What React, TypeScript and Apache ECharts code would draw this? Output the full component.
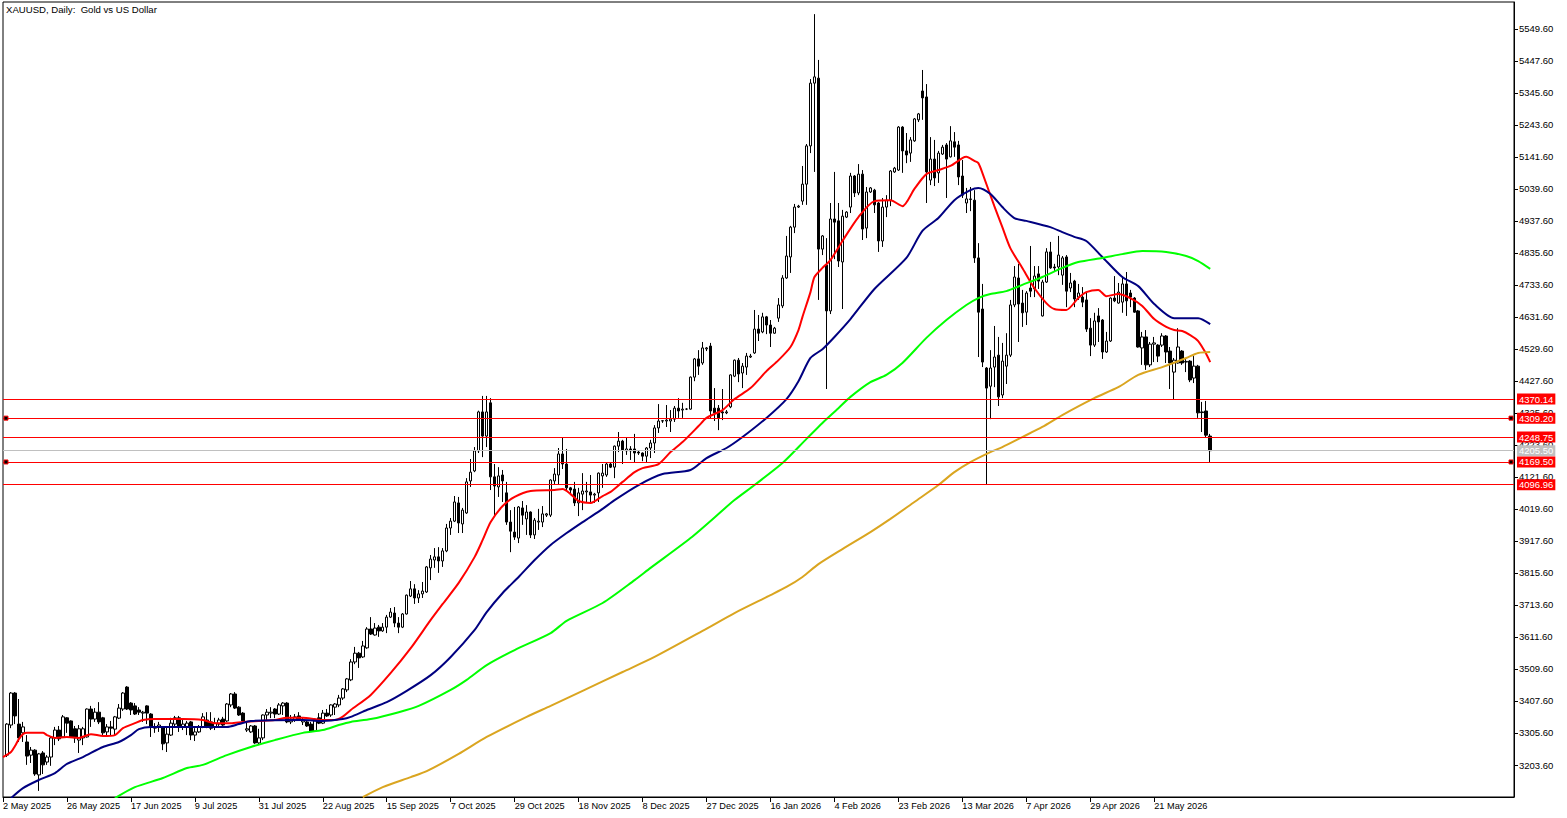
import React, { useEffect, useRef } from 'react';
import * as echarts from 'echarts';

const CHART_TITLE = 'XAUUSD, Daily:  Gold vs US Dollar';
const FONT = '"Liberation Sans", Arial, sans-serif';

const xLabels = [
  '2 May 2025', '26 May 2025', '17 Jun 2025', '9 Jul 2025', '31 Jul 2025', '22 Aug 2025', '15 Sep 2025',
  '7 Oct 2025', '29 Oct 2025', '18 Nov 2025', '8 Dec 2025', '27 Dec 2025', '16 Jan 2026', '4 Feb 2026',
  '23 Feb 2026', '13 Mar 2026', '7 Apr 2026', '29 Apr 2026', '21 May 2026',
];
const BARS_PER_LABEL = 16;
const SLOTS = 379;

const yTicks = [
  3203.6, 3305.6, 3407.6, 3509.6, 3611.6, 3713.6, 3815.6, 3917.6, 4019.6, 4121.6, 4223.6, 4325.6,
  4427.6, 4529.6, 4631.6, 4733.6, 4835.6, 4937.6, 5039.6, 5141.6, 5243.6, 5345.6, 5447.6, 5549.6,
];

const redLevels = [4370.14, 4309.2, 4248.75, 4169.5, 4096.96];
const bidLevel = 4205.5;
const anchoredLevels = [4309.2, 4169.5];

// open, close, low, high
const candles = [
  [3235,3334,3229,3337],[3331,3433,3321,3436],[3433,3360,3334,3436],[3334,3290,3277,3414],[3306,3325,3277,3341],
  [3277,3232,3204,3299],[3235,3251,3210,3261],[3251,3175,3169,3254],[3172,3239,3121,3242],[3242,3204,3175,3248],
  [3213,3229,3204,3235],[3229,3290,3201,3293],[3290,3315,3267,3325],[3315,3287,3280,3328],[3293,3357,3290,3363],
  [3354,3337,3306,3356],[3344,3293,3290,3346],[3319,3290,3274,3328],[3283,3319,3242,3331],[3290,3319,3267,3325],
  [3293,3382,3291,3384],[3382,3350,3325,3392],[3350,3372,3341,3385],[3372,3341,3334,3404],[3354,3306,3299,3357],
  [3309,3325,3293,3334],[3325,3321,3296,3344],[3318,3357,3296,3360],[3353,3385,3350,3398],[3382,3433,3376,3436],
  [3452,3382,3379,3455],[3401,3379,3363,3404],[3392,3366,3363,3401],[3379,3372,3363,3388],[3369,3372,3341,3376],
  [3392,3369,3334,3394],[3366,3325,3293,3369],[3321,3325,3306,3337],[3325,3331,3309,3341],[3325,3271,3251,3327],
  [3274,3302,3245,3325],[3299,3337,3296,3354],[3334,3354,3325,3360],[3354,3325,3309,3360],[3325,3334,3315,3347],
  [3325,3337,3299,3344],[3341,3299,3283,3344],[3299,3309,3280,3321],[3309,3325,3306,3331],[3325,3357,3321,3369],
  [3347,3328,3321,3372],[3341,3321,3315,3372],[3325,3337,3315,3354],[3334,3347,3328,3354],[3350,3331,3328,3357],
  [3344,3398,3341,3401],[3395,3430,3388,3433],[3430,3385,3382,3436],[3388,3363,3360,3391],[3369,3344,3337,3372],
  [3315,3319,3309,3341],[3309,3328,3306,3331],[3328,3274,3271,3331],[3274,3290,3267,3319],[3290,3363,3283,3365],
  [3363,3372,3347,3382],[3369,3372,3353,3388],[3382,3366,3353,3385],[3366,3395,3363,3401],[3392,3401,3363,3404],
  [3401,3341,3337,3404],[3341,3350,3334,3363],[3347,3357,3341,3366],[3360,3347,3344,3372],[3341,3347,3331,3354],
  [3341,3328,3325,3347],[3334,3312,3309,3341],[3312,3344,3309,3346],[3354,3337,3334,3369],[3337,3369,3334,3379],
  [3369,3360,3357,3382],[3363,3395,3357,3397],[3388,3398,3363,3401],[3395,3417,3388,3427],[3417,3446,3411,3449],
  [3443,3478,3436,3481],[3475,3532,3471,3541],[3532,3560,3525,3580],[3560,3545,3513,3564],[3548,3583,3545,3599],
  [3577,3637,3574,3643],[3637,3621,3618,3675],[3618,3640,3616,3656],[3643,3631,3612,3650],[3631,3643,3628,3656],
  [3643,3675,3624,3682],[3675,3691,3672,3704],[3688,3656,3643,3707],[3656,3643,3624,3675],[3643,3685,3640,3688],
  [3685,3745,3683,3747],[3742,3765,3739,3790],[3765,3736,3717,3780],[3736,3749,3720,3761],[3749,3758,3736,3787],
  [3755,3835,3752,3838],[3832,3860,3793,3873],[3857,3867,3832,3895],[3867,3854,3816,3898],[3854,3886,3835,3895],
  [3886,3959,3882,3972],[3959,3981,3937,3991],[3981,4042,3978,4061],[4039,3975,3943,4058],[3972,4016,3943,4023],
  [4007,4106,4004,4118],[4109,4137,4090,4179],[4141,4205,4137,4217],[4205,4329,4198,4333],[4329,4252,4185,4380],
  [4252,4329,4217,4380],[4358,4122,4080,4373],[4122,4093,4000,4163],[4090,4125,4058,4153],[4128,4109,4042,4144],
  [4071,3978,3969,4106],[3978,3949,3882,4016],[3946,3930,3921,4026],[3927,4026,3911,4029],[4023,4000,3969,4045],
  [3988,4010,3937,4032],[4010,3937,3927,4012],[3937,3984,3924,3991],[3978,3981,3953,4020],[3978,4004,3962,4029],
  [4000,4004,3994,4007],[4000,4112,3994,4114],[4109,4131,4096,4150],[4128,4195,4096,4214],[4195,4163,4147,4246],
  [4163,4087,4077,4211],[4087,4080,4064,4090],[4083,4039,4029,4106],[4039,4071,3997,4087],[4067,4077,4016,4134],
  [4074,4077,4039,4106],[4074,4064,4042,4128],[4064,4067,4039,4071],[4071,4134,4042,4136],[4125,4134,4087,4163],
  [4128,4163,4122,4169],[4163,4153,4150,4169],[4153,4220,4118,4222],[4220,4236,4201,4265],[4236,4208,4163,4240],
  [4205,4211,4192,4246],[4211,4205,4176,4220],[4211,4198,4169,4259],[4201,4198,4192,4205],[4198,4188,4172,4200],
  [4188,4214,4169,4217],[4214,4230,4182,4240],[4230,4278,4198,4287],[4278,4300,4262,4354],[4300,4301,4294,4303],
  [4300,4303,4281,4351],[4300,4306,4265,4335],[4306,4341,4297,4348],[4341,4332,4310,4373],[4335,4338,4310,4358],
  [4338,4338,4335,4341],[4338,4440,4336,4442],[4440,4498,4427,4501],[4498,4475,4447,4526],[4485,4533,4479,4552],
  [4530,4533,4523,4536],[4539,4332,4310,4549],[4341,4326,4300,4405],[4341,4310,4271,4351],[4329,4326,4303,4402],
  [4326,4329,4322,4335],[4345,4447,4341,4449],[4443,4494,4440,4496],[4494,4450,4424,4501],[4453,4475,4405,4485],
  [4472,4507,4447,4517],[4504,4507,4501,4514],[4517,4593,4514,4654],[4593,4580,4555,4638],[4584,4632,4580,4645],
  [4632,4606,4577,4635],[4606,4580,4536,4622],[4580,4596,4578,4600],[4628,4670,4616,4692],[4667,4756,4660,4765],
  [4756,4826,4753,4890],[4823,4918,4772,4922],[4918,4982,4899,4992],[4982,4985,4979,4989],[5001,5055,4989,5113],
  [5055,5177,4989,5183],[5177,5377,5154,5390],[5377,5397,5094,5597],[5393,4848,4686,5451],[4848,4890,4829,4893],
  [4797,4651,4402,4883],[4651,4944,4641,4995],[4944,4934,4816,5094],[4938,4810,4791,4995],[4807,4953,4657,4973],
  [4950,4966,4947,4969],[4982,5081,4963,5091],[5081,5027,5014,5084],[5027,5087,5020,5119],[5087,4912,4877,5100],
  [4915,5030,4883,5046],[5030,5043,5027,5046],[5036,4989,4963,5040],[4995,4874,4839,4998],[4874,4982,4855,5011],
  [4982,5004,4950,5020],[5004,5097,4985,5100],[5094,5106,5091,5110],[5100,5237,5097,5240],[5237,5161,5091,5240],
  [5161,5148,5122,5218],[5154,5196,5126,5205],[5193,5263,5190,5266],[5260,5279,5253,5282],[5352,5330,5260,5419],
  [5333,5094,4995,5374],[5068,5135,5052,5205],[5135,5075,5049,5196],[5091,5154,5059,5161],[5151,5173,5148,5180],
  [5180,5135,5011,5186],[5142,5193,5140,5240],[5190,5173,5142,5221],[5180,5078,5052,5193],[5081,5020,5011,5132],
  [4995,5008,4963,5043],[5006,5008,4969,5046],[5004,4820,4804,5036],[4820,4647,4504,4867],[4657,4488,4472,4737],
  [4469,4405,4096,4472],[4411,4469,4306,4526],[4472,4504,4408,4603],[4510,4377,4348,4568],[4383,4491,4373,4549],
  [4475,4510,4418,4580],[4510,4670,4504,4686],[4670,4759,4663,4794],[4756,4673,4552,4801],[4676,4645,4600,4718],
  [4647,4708,4606,4714],[4724,4714,4695,4858],[4721,4762,4695,4794],[4769,4746,4721,4794],[4635,4743,4633,4750],
  [4743,4839,4740,4851],[4839,4788,4785,4871],[4791,4788,4775,4801],[4791,4829,4765,4890],[4765,4820,4734,4826],
  [4823,4714,4663,4829],[4724,4740,4711,4772],[4746,4689,4663,4750],[4695,4708,4686,4737],[4695,4679,4663,4727],
  [4686,4593,4584,4711],[4596,4542,4507,4628],[4542,4619,4536,4645],[4635,4616,4552,4660],[4622,4520,4498,4625],
  [4520,4555,4517,4584],[4555,4692,4552,4694],[4692,4683,4679,4762],[4676,4711,4674,4740],[4679,4737,4645,4762],
  [4737,4683,4635,4775],[4708,4695,4663,4718],[4692,4647,4645,4695],[4651,4536,4534,4654],[4533,4568,4479,4584],
  [4568,4479,4463,4590],[4479,4545,4472,4552],[4545,4549,4488,4568],[4542,4507,4488,4545],[4542,4571,4536,4580],
  [4571,4520,4485,4574],[4523,4485,4402,4536],[4456,4494,4367,4501],[4485,4536,4483,4596],[4523,4485,4479,4526],
  [4488,4490,4456,4501],[4491,4431,4424,4494],[4437,4475,4421,4507],[4475,4326,4310,4479],[4329,4327,4265,4361],
  [4332,4255,4246,4364],[4252,4205.5,4169.5,4259],
];

// moving averages as [bar number, price]
const redMa = [
  [0,3229],[2,3245],[3,3264],[4,3287],[5,3302],[6,3306],[10,3306],[11,3299],[13,3290],[16,3293],[19,3290],[22,3302],
  [25,3296],[28,3299],[30,3321],[33,3337],[35,3347],[38,3350],[45,3350],[50,3347],[53,3337],[57,3337],[60,3341],
  [64,3344],[68,3347],[71,3354],[75,3354],[78,3350],[80,3347],[83,3347],[85,3358],[87,3379],[92,3427],[97,3497],
  [102,3576],[107,3666],[110,3717],[114,3784],[118,3867],[120,3921],[122,3978],[125,4029],[128,4058],[132,4077],
  [138,4080],[140,4083],[142,4067],[144,4045],[147,4039],[150,4061],[152,4074],[155,4106],[158,4137],[160,4150],
  [164,4163],[167,4201],[170,4233],[174,4284],[176,4310],[180,4335],[183,4370],[187,4405],[191,4459],[194,4494],
  [197,4536],[199,4590],[200,4632],[202,4711],[203,4759],[205,4788],[207,4813],[210,4874],[214,4950],[218,5001],
  [222,5004],[225,4985],[228,5040],[231,5087],[234,5100],[237,5113],[240,5138],[241,5142],[243,5129],[244,5122],
  [245,5091],[248,4985],[250,4918],[252,4851],[255,4788],[258,4724],[261,4676],[263,4657],[266,4654],[269,4692],
  [271,4711],[274,4718],[276,4698],[279,4705],[282,4692],[285,4667],[288,4625],[291,4600],[293,4590],[295,4587],
  [297,4574],[299,4555],[301,4514],[302,4488],
];
const navyMa = [
  [2,3098],[5,3130],[9,3156],[13,3178],[16,3207],[20,3229],[25,3261],[29,3277],[32,3299],[34,3318],[37,3325],[50,3325],
  [56,3325],[59,3334],[62,3344],[75,3347],[80,3344],[85,3350],[87,3357],[91,3379],[96,3404],[101,3440],[107,3490],
  [112,3548],[118,3634],[121,3691],[125,3752],[129,3803],[133,3857],[137,3905],[141,3943],[145,3978],[150,4020],
  [153,4048],[159,4096],[165,4131],[172,4144],[176,4182],[181,4214],[185,4249],[191,4310],[196,4370],[199,4427],
  [202,4501],[205,4529],[208,4568],[212,4625],[218,4721],[226,4820],[230,4906],[234,4947],[238,5004],[242,5036],
  [244,5043],[247,5024],[250,4982],[253,4947],[256,4938],[262,4918],[265,4902],[268,4887],[271,4874],[275,4823],
  [280,4759],[284,4730],[288,4673],[293,4628],[299,4628],[302,4609],
];
const limeMa = [
  [28,3098],[33,3133],[40,3162],[46,3194],[50,3204],[56,3235],[62,3261],[68,3283],[75,3306],[80,3315],[84,3331],
  [87,3341],[92,3350],[99,3372],[104,3392],[112,3443],[116,3475],[121,3522],[128,3570],[137,3624],[141,3663],
  [150,3720],[158,3793],[162,3832],[172,3927],[183,4048],[188,4096],[195,4166],[201,4243],[205,4294],[209,4341],
  [212,4377],[217,4424],[221,4447],[225,4485],[231,4565],[236,4622],[241,4670],[244,4692],[247,4705],[251,4714],
  [255,4734],[260,4759],[265,4788],[269,4807],[275,4820],[280,4832],[285,4842],[291,4839],[296,4826],[299,4810],
  [302,4785],
];
const goldMa = [
  [90,3101],[95,3133],[102,3165],[106,3184],[114,3239],[121,3293],[131,3357],[137,3392],[145,3440],[155,3500],
  [163,3548],[175,3631],[183,3688],[192,3745],[196,3771],[200,3803],[204,3844],[210,3892],[217,3946],[222,3988],
  [228,4042],[234,4096],[238,4137],[242,4169],[247,4201],[250,4217],[255,4249],[260,4281],[265,4319],[273,4373],
  [279,4408],[284,4447],[290,4472],[296,4501],[299,4517],[302,4520],
];

const categories = Array.from({ length: SLOTS }, (_, i) =>
  i % BARS_PER_LABEL === 0 ? xLabels[i / BARS_PER_LABEL] ?? '' : ''
);
const isLabelled = (i: number) => i % BARS_PER_LABEL === 0 && i / BARS_PER_LABEL < xLabels.length;

const levelLine = (value: number, color: string) => ({
  yAxis: value,
  lineStyle: { color, width: 1, type: 'solid' },
  label: {
    show: true,
    position: 'end',
    distance: 3,
    formatter: value.toFixed(2),
    color: '#fff',
    backgroundColor: color,
    padding: [1, 2, 0, 2],
    fontFamily: FONT,
    fontSize: 9.5,
  },
});

const maSeries = (name: string, data: number[][], color: string) => ({
  name,
  type: 'line',
  data,
  showSymbol: false,
  smooth: 0.25,
  lineStyle: { color, width: 2 },
  z: 3,
});

const App: React.FC = () => {
  const chartRef = useRef<HTMLDivElement>(null);

  useEffect(() => {
    document.body.style.margin = '0';
    if (!chartRef.current) return;
    const chart = echarts.init(chartRef.current, null, { renderer: 'svg' });

    chart.setOption({
      animation: false,
      backgroundColor: '#fff',
      title: {
        text: CHART_TITLE,
        left: 6,
        top: 4,
        padding: 0,
        textStyle: { fontFamily: FONT, fontSize: 9.6, fontWeight: 'normal', color: '#000' },
      },
      grid: { left: 2, top: 2, width: 1512, height: 795, show: true, borderColor: '#000', borderWidth: 1, backgroundColor: '#fff' },
      xAxis: {
        type: 'category',
        data: categories,
        boundaryGap: false,
        axisLine: { lineStyle: { color: '#000', width: 1 } },
        axisTick: { interval: isLabelled, length: 5, lineStyle: { color: '#000' } },
        axisLabel: {
          interval: isLabelled,
          align: 'left',
          margin: 4,
          color: '#000',
          fontFamily: FONT,
          fontSize: 9.2,
          hideOverlap: false,
        },
        splitLine: { show: false },
      },
      yAxis: {
        type: 'value',
        position: 'right',
        min: 3101.6,
        max: 5635.66,
        axisLine: { show: true, lineStyle: { color: '#000', width: 1 } },
        axisTick: { show: true, customValues: yTicks, length: 4, lineStyle: { color: '#000' } },
        axisLabel: {
          customValues: yTicks,
          formatter: (v: number) => v.toFixed(2),
          margin: 5,
          padding: [2, 0, 0, 0],
          color: '#000',
          fontFamily: FONT,
          fontSize: 9.5,
        },
        splitLine: { show: false },
      },
      series: [
        {
          name: 'XAUUSD',
          type: 'candlestick',
          data: [['-', '-', '-', '-'], ...candles],
          barWidth: 3,
          itemStyle: { color: '#fff', color0: '#000', borderColor: '#000', borderColor0: '#000', borderWidth: 1 },
          z: 2,
        },
        maSeries('MA red', redMa, '#ff0000'),
        maSeries('MA navy', navyMa, '#000080'),
        maSeries('MA lime', limeMa, '#00ff00'),
        maSeries('MA gold', goldMa, '#daa520'),
        {
          name: 'levels',
          type: 'line',
          data: [],
          markLine: {
            silent: true,
            symbol: 'none',
            animation: false,
            data: [levelLine(bidLevel, '#c0c0c0'), ...redLevels.map((v) => levelLine(v, '#ff0000'))],
          },
          markPoint: {
            silent: true,
            animation: false,
            symbol: 'rect',
            symbolSize: 4,
            label: { show: false },
            itemStyle: { color: '#000', borderColor: '#ff0000', borderWidth: 1 },
            data: anchoredLevels.flatMap((v) => [
              { coord: [1, v], symbolOffset: [-1, 0] },
              { coord: [SLOTS - 2, v], symbolOffset: [1, 0] },
            ]),
          },
          z: 4,
        },
      ],
    });

    return () => chart.dispose();
  }, []);

  return <div ref={chartRef} style={{ position: 'fixed', left: 0, top: 0, width: 1567, height: 818 }} />;
};

export default App;
